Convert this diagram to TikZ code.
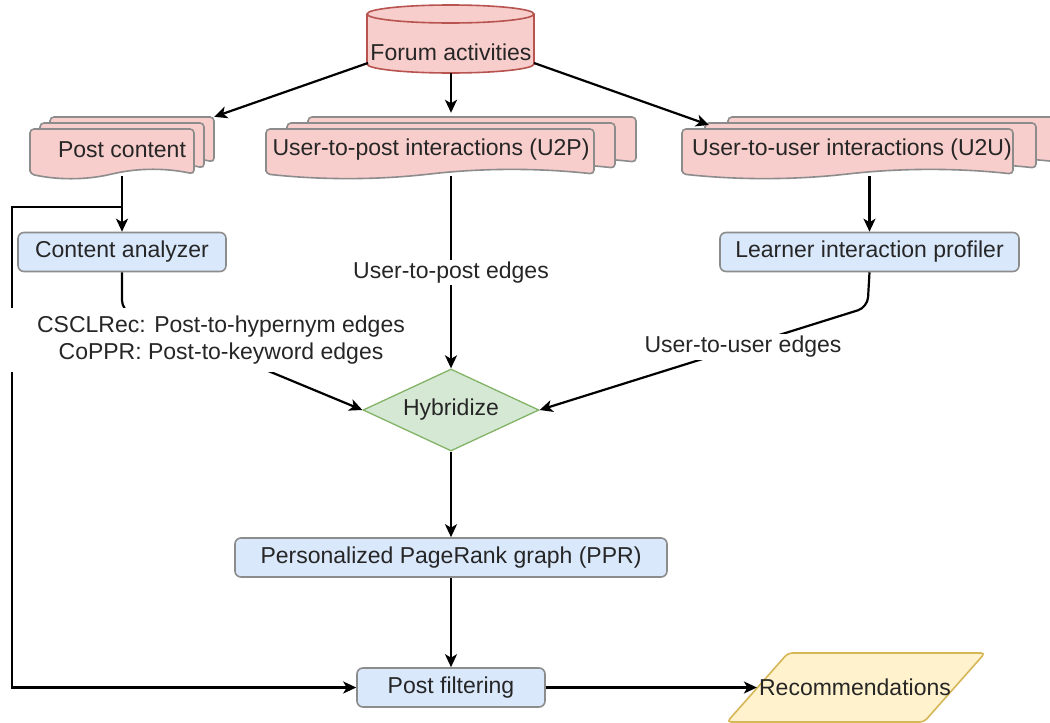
\documentclass[tikz,border=0pt]{standalone}
\usepackage{fontspec}
\setmainfont{Liberation Sans}
\usetikzlibrary{arrows.meta,shapes.geometric,fit}
\definecolor{pinkfill}{HTML}{F8CECC}
\definecolor{pinkline}{HTML}{B85450}
\definecolor{bluefill}{HTML}{DAE8FC}
\definecolor{greenfill}{HTML}{D5E8D4}
\definecolor{greenline}{HTML}{82B366}
\definecolor{yellowfill}{HTML}{FFF2CC}
\definecolor{yellowline}{HTML}{D6B656}
\definecolor{boxline}{HTML}{8C8C8C}
\definecolor{txtcol}{HTML}{262626}
\newcommand{\onedoc}[4]{%
  \draw[docsty] ({#1},{#4}) -- ({#1},{#2}) -- ({#3},{#2}) -- ({#3},{#4})
    .. controls ({(#3)-((#3)-(#1))/6},{(#4)-6}) and ({((#1)+(#3))/2+((#3)-(#1))/6},{(#4)-6}) .. ({((#1)+(#3))/2},{#4})
    .. controls ({((#1)+(#3))/2-((#3)-(#1))/6},{(#4)+6}) and ({(#1)+((#3)-(#1))/6},{(#4)+6}) .. ({#1},{#4}) -- cycle;}
\newcommand{\docstack}[6]{%
  \onedoc{(#1)+2*(#5)}{(#2)-2*(#6)}{(#3)+2*(#5)}{(#4)-2*(#6)}
  \onedoc{(#1)+(#5)}{(#2)-(#6)}{(#3)+(#5)}{(#4)-(#6)}
  \onedoc{#1}{#2}{#3}{#4}}
\begin{document}
\begin{tikzpicture}[x=1pt,y=-1pt,
  font=\fontsize{23}{27}\selectfont, text=txtcol,
  docsty/.style={draw=boxline, fill=pinkfill, line width=1.6pt, rounded corners=4pt},
  proc/.style={draw=boxline, fill=bluefill, line width=1.6pt, rounded corners=6pt, inner sep=0pt},
  conn/.style={line width=2.2pt, draw=black, -{Stealth[length=13pt,width=12pt,inset=3.5pt]}},
  lbl/.style={fill=white, inner sep=2pt},
  txt/.style={inner sep=2pt},
  bbox/.style={inner sep=0pt, draw=none}]
\useasboundingbox (0,0) rectangle (1050,723);
\fill[white] (0,0) rectangle (1050,723);

% Forum activities cylinder
\draw[draw=pinkline, fill=pinkfill, line width=1.6pt] (367,14) -- (367,64)
  arc[start angle=180, end angle=360, x radius=83.5pt, y radius=9pt] -- (534,14)
  arc[start angle=0, end angle=180, x radius=83.5pt, y radius=9pt] -- cycle;
\draw[draw=pinkline, line width=1.6pt] (367,14) arc[start angle=180, end angle=360, x radius=83.5pt, y radius=9pt];
\node[bbox, fit={(367,5) (534,73)}] (fa) {};
\node[txt] (fatxt) at (451,52) {Forum activities};
\coordinate (fal) at (368,63);
\coordinate (far) at (534,63);

% document stacks
\docstack{30}{129}{194}{174}{10}{6}
\node[bbox, fit={(30,117) (214,176)}] (pcbox) {};
\node[txt] (pc) at (122,150) {Post content};

\docstack{266}{129}{594}{174}{21}{6}
\node[bbox, fit={(266,117) (636,176)}] (u2pbox) {};
\node[txt] (u2p) at (431,150) {User-to-post interactions (U2P)};

\docstack{682}{129}{1013}{174}{23}{6}
\node[bbox, fit={(682,117) (1059,176)}] (u2ubox) {};
\node[txt] (u2u) at (852,150) {User-to-user interactions (U2U)};
\coordinate (u2uin) at (709,125);

% process boxes
\node[proc, minimum width=208pt, minimum height=39pt] (ca) at (122,252) {Content analyzer};
\node[proc, minimum width=299pt, minimum height=39pt] (prof) at (869.5,252) {Learner interaction profiler};
\node[draw=greenline, fill=greenfill, line width=1.3pt, diamond, aspect=2.13,
      minimum width=176pt, minimum height=82pt, inner sep=0pt] (hy) at (451,410) {Hybridize};
\node[proc, minimum width=432pt, minimum height=39pt] (ppr) at (451,557.5) {Personalized PageRank graph (PPR)};
\node[proc, minimum width=188pt, minimum height=39pt] (pf) at (451,687.5) {Post filtering};

% Recommendations parallelogram
\draw[draw=yellowline, fill=yellowfill, line width=1.6pt, rounded corners=4pt]
  (727,722) -- (788,653) -- (985,653) -- (924,722) -- cycle;
\node[txt] (rec) at (855,687.5) {Recommendations};

% connectors from the cylinder
\draw[conn] (fal) -- (pcbox.north east);
\draw[conn] (fa.south -| u2pbox.north) -- ([yshift=4pt]u2pbox.north);
\draw[conn] (far) -- (u2uin);

% left branch
\coordinate (pcbr) at (122,207);
\coordinate (lx) at (12,0);
\draw[conn] (pcbox.south -| pc) -- (ca.north);
\draw[conn] (pcbr) -- (pcbr -| lx) |- (pf.west);

% content analyzer to hybridize
\draw[conn, rounded corners=10pt] (ca.south) -- ++(0,38) -- (hy.west);
\node[lbl, align=center, minimum width=424pt, minimum height=64pt] (cslbl) at (221,340)
  {CSCLRec: Post-to-hypernym edges\\CoPPR: Post-to-keyword edges};

% U2P to hybridize
\draw[conn] (hy.north |- u2pbox.south) -- node[lbl, pos=0.5] (u2plbl) {User-to-post edges} (hy.north);

% U2U to profiler to hybridize
\draw[conn] (prof.north |- u2ubox.south) -- (prof.north);
\draw[conn, rounded corners=10pt] (prof.south) -- ++(-2,35) -- (hy.east);
\node[lbl] (u2ulbl) at (743,347) {User-to-user edges};

% lower chain
\draw[conn] (hy.south) -- (ppr.north);
\draw[conn] (ppr.south) -- (pf.north);
\draw[conn] (pf.east) -- (pf.east -| rec.west);
\end{tikzpicture}
\end{document}
